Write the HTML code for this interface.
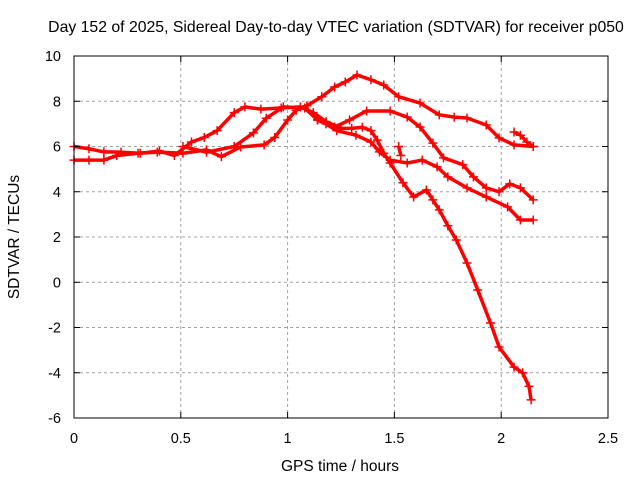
<!DOCTYPE html>
<html><head><meta charset="utf-8"><style>
body{margin:0;background:#fff}
svg{display:block;font-family:"Liberation Sans",sans-serif}
</style></head><body>
<svg id="chart" width="640" height="480">
<text x="336" y="32" text-anchor="middle" font-size="15.8">Day 152 of 2025, Sidereal Day-to-day VTEC variation (SDTVAR) for receiver p050</text>
<g id="grid"></g>
<g id="series"></g>
<rect x="74" y="56" width="534" height="362" fill="none" stroke="#000" stroke-width="1"/>
<g id="ticks"></g>
<text x="340" y="471" text-anchor="middle" font-size="15.5">GPS time / hours</text>
<text transform="translate(19,237) rotate(-90)" text-anchor="middle" font-size="15.5">SDTVAR / TECUs</text>
</svg>
<script>
const xTicks=[0,0.5,1,1.5,2,2.5];
const xTickLabels=["0","0.5","1","1.5","2","2.5"];
const yTicks=[-6,-4,-2,0,2,4,6,8,10];
const yTickLabels=["-6","-4","-2","0","2","4","6","8","10"];
const seriesA=[[0,5.4],[0.07,5.4],[0.14,5.4],[0.2,5.6],[0.3,5.7],[0.39,5.75],[0.51,5.7],[0.62,5.85],[0.69,5.55],[0.78,5.98],[0.89,6.07],[0.94,6.4],[1.0,7.17],[1.04,7.6],[1.09,7.8],[1.16,8.2],[1.22,8.63],[1.27,8.85],[1.325,9.16],[1.39,8.95],[1.45,8.72],[1.52,8.2],[1.62,7.92],[1.71,7.4],[1.78,7.3],[1.84,7.26],[1.93,6.95],[1.99,6.38],[2.06,6.07],[2.15,6.0]];
const seriesA2=[[2.06,6.64],[2.09,6.5],[2.12,6.2],[2.15,6.0]];
const seriesB=[[0,6.0],[0.07,5.9],[0.14,5.76],[0.22,5.75],[0.31,5.7],[0.4,5.8],[0.47,5.6],[0.55,6.2],[0.61,6.4],[0.67,6.7],[0.75,7.5],[0.8,7.75],[0.875,7.65],[0.97,7.7],[1.06,7.75],[1.12,7.5],[1.18,7.1],[1.25,6.8],[1.3,6.8],[1.35,6.85],[1.39,6.7],[1.42,6.28],[1.45,5.7],[1.48,5.27],[1.54,4.4],[1.59,3.77],[1.65,4.08],[1.68,3.64],[1.71,3.2],[1.75,2.5],[1.79,1.87],[1.84,0.85],[1.89,-0.34],[1.95,-1.8],[1.99,-2.86],[2.06,-3.75],[2.1,-4.0],[2.13,-4.6],[2.14,-5.2]];
const seriesC=[[0.51,6.0],[0.62,5.75],[0.75,6.0],[0.84,6.6],[0.9,7.25],[0.98,7.75],[1.08,7.7],[1.14,7.17],[1.22,6.86],[1.29,7.17],[1.37,7.57],[1.48,7.57],[1.56,7.3],[1.62,6.86],[1.68,6.15],[1.73,5.5],[1.82,5.2],[1.87,4.66],[1.93,4.17],[1.99,4.0],[2.04,4.35],[2.09,4.17],[2.15,3.64]];
const seriesD=[[1.14,7.17],[1.18,7.0],[1.23,6.7],[1.32,6.5],[1.39,6.2],[1.43,5.76],[1.48,5.4],[1.56,5.27],[1.63,5.4],[1.7,5.1],[1.75,4.66],[1.84,4.17],[1.93,3.77],[2.03,3.33],[2.09,2.75],[2.15,2.75]];
const seriesE=[[1.52,6.0],[1.53,5.6]];

const X=h=>74+h*213.6;
const Y=v=>56+(10-v)*22.625;
const NS="http://www.w3.org/2000/svg";
const grid=document.getElementById('grid'),ticks=document.getElementById('ticks'),ser=document.getElementById('series');
function mk(t,a,p){const e=document.createElementNS(NS,t);for(const k in a)e.setAttribute(k,a[k]);p.appendChild(e);return e;}
xTicks.forEach((t,i)=>{
  const x=X(t);
  if(i>0&&i<xTicks.length-1){const g=mk('line',{x1:x,y1:56,x2:x,y2:418,stroke:'#a0a0a0','stroke-dasharray':'3,3'},grid);
  
  }
  mk('line',{x1:x,y1:418,x2:x,y2:412,stroke:'#000'},ticks);
  mk('line',{x1:x,y1:56,x2:x,y2:62,stroke:'#000'},ticks);
  const l=mk('text',{x:x,y:443,'text-anchor':'middle','font-size':'14.5'},ticks);l.textContent=xTickLabels[i];
  
  
});
yTicks.forEach((t,i)=>{
  const y=Y(t);
  if(i>0&&i<yTicks.length-1){const g=mk('line',{x1:74,y1:y,x2:608,y2:y,stroke:'#a0a0a0','stroke-dasharray':'3,3'},grid);
  
  }
  mk('line',{x1:74,y1:y,x2:80,y2:y,stroke:'#000'},ticks);
  mk('line',{x1:608,y1:y,x2:602,y2:y,stroke:'#000'},ticks);
  const l=mk('text',{x:61,y:y+5,'text-anchor':'end','font-size':'14.5'},ticks);l.textContent=yTickLabels[i];
  
  
});
function draw(data,name){
  const g=mk('g',{},ser);
  
  
  mk('polyline',{points:data.map(p=>X(p[0])+','+Y(p[1])).join(' '),fill:'none',stroke:'#f00','stroke-width':'3.5','stroke-linejoin':'round'},g);
  data.forEach(p=>{const x=X(p[0]),y=Y(p[1]);
    const m=mk('path',{d:`M${x-4.5},${y}H${x+4.5}M${x},${y-4.5}V${y+4.5}`,stroke:'#f00','stroke-width':'1.5'},g);
    
    
  });
}
draw(seriesA,'series-a');draw(seriesA2,'series-a-branch');draw(seriesB,'series-b');draw(seriesC,'series-c');draw(seriesD,'series-d');draw(seriesE,'series-e');
</script>
</body></html>
